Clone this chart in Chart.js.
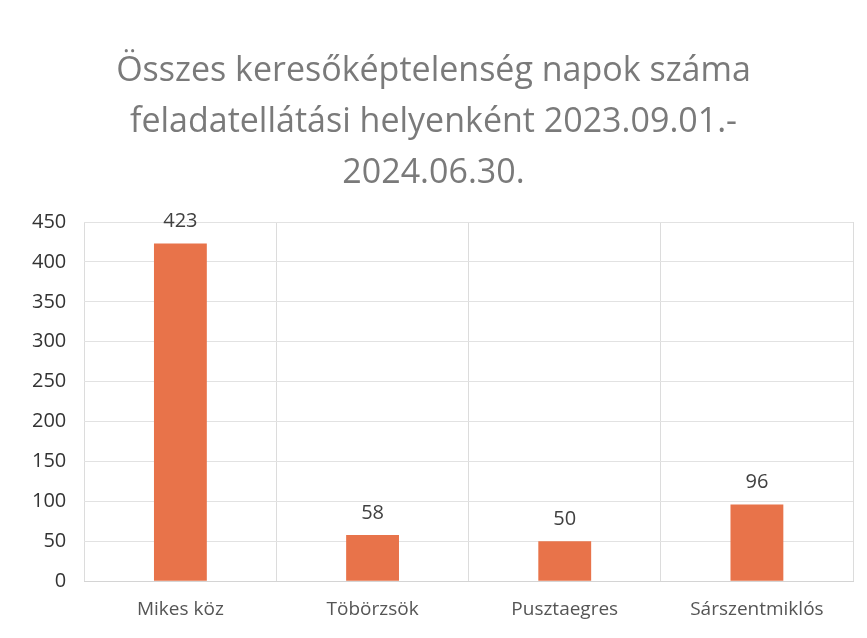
<!DOCTYPE html>
<html>
<head>
<meta charset="utf-8">
<script src="https://cdn.jsdelivr.net/npm/chart.js@4/dist/chart.umd.min.js"></script>
<style>
  html, body { margin: 0; padding: 0; background: #fff; }
  #wrap { width: 867px; height: 638px; position: relative; }
</style>
</head>
<body>
<div id="wrap"><canvas id="barChart" width="867" height="638"></canvas></div>
<script>
// adatok
const categories = ['Mikes köz', 'Töbörzsök', 'Pusztaegres', 'Sárszentmiklós'];
const napok = [423, 58, 50, 96];
const titleLines = [
    'Összes keresőképtelenség napok száma',
    'feladatellátási helyenként 2023.09.01.-',
    '2024.06.30.'
];

// értékek kiírása az oszlopok fölé
const barValues = {
    id: 'barValues',
    afterDatasetsDraw(chart) {
        const ctx = chart.ctx;
        const meta = chart.getDatasetMeta(0);
        ctx.save();
        ctx.font = '20px "Open Sans", sans-serif';
        ctx.fillStyle = '#404040';
        ctx.textAlign = 'center';
        ctx.textBaseline = 'bottom';
        meta.data.forEach(function (bar, i) {
            ctx.fillText(chart.data.datasets[0].data[i], bar.x, bar.y - 12);
        });
        ctx.restore();
    }
};

document.addEventListener('DOMContentLoaded', function () {
    const ctx = document.getElementById('barChart').getContext('2d');

    new Chart(ctx, {
        type: 'bar',
        data: {
            labels: categories,
            datasets: [{
                data: napok,
                backgroundColor: '#e8734a',
                borderWidth: 0,
                barPercentage: 0.55,
                categoryPercentage: 0.5
            }]
        },
        options: {
            responsive: false,
            animation: false,
            layout: { padding: { top: 46, left: 14, right: 14, bottom: 0 } },
            plugins: {
                legend: { display: false },
                tooltip: { enabled: false },
                title: {
                    display: true,
                    text: titleLines,
                    color: '#7a7a7a',
                    font: { family: '"Open Sans", sans-serif', size: 34, weight: 'normal', lineHeight: 1.5 },
                    padding: { top: 0, bottom: 23 }
                }
            },
            scales: {
                x: {
                    grid: { color: '#dcdcdc', drawTicks: false },
                    border: { color: '#d4d4d4' },
                    ticks: {
                        color: '#555',
                        padding: 17,
                        font: { family: '"Open Sans", sans-serif', size: 19 }
                    }
                },
                y: {
                    min: 0,
                    max: 450,
                    grid: { color: '#e2e2e2', drawTicks: false },
                    border: { display: false },
                    ticks: {
                        stepSize: 50,
                        color: '#333',
                        padding: 18,
                        font: { family: '"Open Sans", sans-serif', size: 20 }
                    }
                }
            }
        },
        plugins: [barValues]
    });
});
</script>
</body>
</html>
